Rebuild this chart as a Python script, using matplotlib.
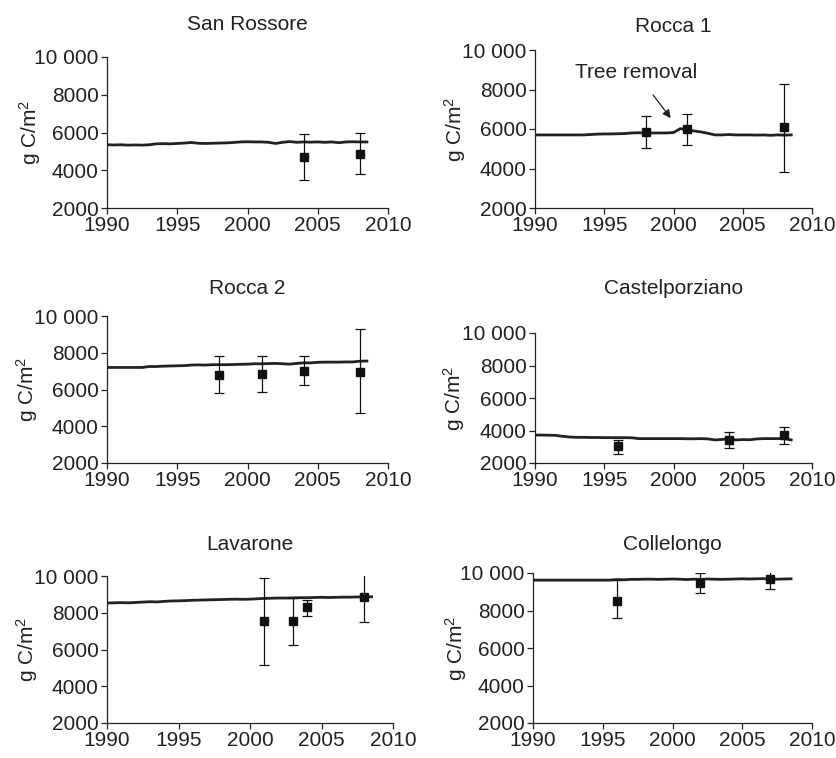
import matplotlib.pyplot as plt
import numpy as np

plt.rcParams['font.family'] = ['Liberation Sans', 'DejaVu Sans']
plt.rcParams['mathtext.fontset'] = 'custom'
plt.rcParams['mathtext.rm'] = 'Liberation Sans'
plt.rcParams['mathtext.it'] = 'Liberation Sans'
plt.rcParams['mathtext.default'] = 'rm'

# model output sampled every half year, 1990.0 .. 2008.5
YEARS = np.arange(1990.0, 2009.0, 0.5)

SITES = ['San Rossore', 'Rocca 1', 'Rocca 2',
         'Castelporziano', 'Lavarone', 'Collelongo']

san_rossore_model = [5350, 5340, 5350, 5330, 5340, 5330, 5350, 5400, 5410, 5400,
                     5420, 5440, 5470, 5430, 5420, 5430, 5440, 5450, 5470, 5500,
                     5510, 5500, 5500, 5480, 5420, 5480, 5520, 5480, 5500, 5490,
                     5500, 5480, 5500, 5460, 5500, 5510, 5500, 5500]
rocca1_model = [5700, 5700, 5700, 5700, 5700, 5700, 5700, 5700, 5720, 5740,
                5750, 5750, 5760, 5770, 5800, 5810, 5800, 5800, 5800, 5800,
                5820, 6020, 5950, 5900, 5850, 5780, 5700, 5700, 5720, 5700,
                5700, 5700, 5690, 5700, 5680, 5700, 5690, 5700]
rocca2_model = [7200, 7200, 7200, 7200, 7200, 7200, 7250, 7250, 7270, 7280,
                7290, 7300, 7330, 7340, 7330, 7350, 7350, 7350, 7360, 7370,
                7380, 7400, 7400, 7410, 7420, 7400, 7380, 7420, 7450, 7450,
                7480, 7490, 7490, 7490, 7500, 7500, 7540, 7550]
castel_model = [3720, 3720, 3710, 3700, 3640, 3600, 3580, 3580, 3570, 3570,
                3560, 3560, 3560, 3560, 3550, 3500, 3500, 3500, 3500, 3500,
                3500, 3500, 3490, 3490, 3500, 3480, 3420, 3450, 3480, 3420,
                3440, 3430, 3480, 3500, 3500, 3500, 3500, 3420]
lavarone_model = [8530, 8540, 8550, 8540, 8560, 8580, 8600, 8590, 8620, 8640,
                  8650, 8660, 8680, 8690, 8700, 8710, 8720, 8730, 8740, 8730,
                  8740, 8760, 8780, 8790, 8800, 8800, 8810, 8820, 8820, 8830,
                  8840, 8830, 8840, 8850, 8850, 8860, 8860, 8870]
collelongo_model = [9620, 9620, 9620, 9620, 9620, 9620, 9620, 9620, 9620, 9620,
                    9620, 9620, 9650, 9640, 9660, 9660, 9670, 9670, 9660, 9670,
                    9680, 9670, 9650, 9670, 9660, 9680, 9670, 9660, 9670, 9680,
                    9690, 9680, 9690, 9700, 9680, 9670, 9680, 9690]

# field measurements: year, value, lower and upper end of the error bar
san_rossore_obs_x = [2004, 2008]
san_rossore_obs_y = [4700, 4850]
san_rossore_obs_lo = [3500, 3800]
san_rossore_obs_hi = [5900, 6000]

rocca1_obs_x = [1998, 2001, 2008]
rocca1_obs_y = [5850, 6000, 6100]
rocca1_obs_lo = [5050, 5200, 3800]
rocca1_obs_hi = [6650, 6750, 8300]

rocca2_obs_x = [1998, 2001, 2004, 2008]
rocca2_obs_y = [6800, 6850, 7000, 6950]
rocca2_obs_lo = [5800, 5850, 6250, 4700]
rocca2_obs_hi = [7800, 7850, 7850, 9300]

castel_obs_x = [1996, 2004, 2008]
castel_obs_y = [3050, 3400, 3700]
castel_obs_lo = [2550, 2900, 3200]
castel_obs_hi = [3400, 3900, 4200]

lavarone_obs_x = [2001, 2003, 2004, 2008]
lavarone_obs_y = [7550, 7550, 8300, 8850]
lavarone_obs_lo = [5150, 6250, 7800, 7500]
lavarone_obs_hi = [9880, 8800, 8700, 10200]

collelongo_obs_x = [1996, 2002, 2007]
collelongo_obs_y = [8500, 9450, 9680]
collelongo_obs_lo = [7600, 8950, 9150]
collelongo_obs_hi = [9650, 10000, 10150]

MODELS = [san_rossore_model, rocca1_model, rocca2_model,
          castel_model, lavarone_model, collelongo_model]
OBS = [
    (san_rossore_obs_x, san_rossore_obs_y, san_rossore_obs_lo, san_rossore_obs_hi),
    (rocca1_obs_x, rocca1_obs_y, rocca1_obs_lo, rocca1_obs_hi),
    (rocca2_obs_x, rocca2_obs_y, rocca2_obs_lo, rocca2_obs_hi),
    (castel_obs_x, castel_obs_y, castel_obs_lo, castel_obs_hi),
    (lavarone_obs_x, lavarone_obs_y, lavarone_obs_lo, lavarone_obs_hi),
    (collelongo_obs_x, collelongo_obs_y, collelongo_obs_lo, collelongo_obs_hi),
]

X_TICKS = [1990, 1995, 2000, 2005, 2010]
Y_TICKS = [2000, 4000, 6000, 8000, 10000]
Y_TICK_LABELS = ['2000', '4000', '6000', '8000', '10 000']

W, H = 836, 758
# axes boxes in pixels: left, top, right, bottom
BOXES = [
    (107, 57, 388, 208),
    (535, 50, 812, 208),
    (107, 316, 388, 463),
    (535, 333, 812, 463),
    (107, 576, 393, 723),
    (533, 573, 812, 723),
]
TITLE_Y = [25, 26, 288, 288, 544, 544]
YLABEL_X = [30, 455, 27, 454, 27, 456]

FS = 15
INK = '#222222'

fig = plt.figure(figsize=(W / 100, H / 100), dpi=100)

for i, (name, model, (ox, oy, lo, hi)) in enumerate(zip(SITES, MODELS, OBS)):
    l, t, r, b = BOXES[i]
    ax = fig.add_axes([l / W, 1 - b / H, (r - l) / W, (b - t) / H])

    ax.plot(YEARS, model, color=INK, lw=2.0, zorder=2)

    oy = np.array(oy)
    yerr = [oy - np.array(lo), np.array(hi) - oy]
    ax.errorbar(ox, oy, yerr=yerr, fmt='s', color='#111111', ms=6,
                ecolor='#111111', elinewidth=0.9, capsize=3.5, capthick=0.9,
                zorder=3)

    ax.set_xlim(1990, 2010)
    ax.set_ylim(2000, 10000)
    ax.set_xticks(X_TICKS)
    ax.set_yticks(Y_TICKS)
    ax.set_yticklabels(Y_TICK_LABELS)
    ax.tick_params(labelsize=FS, length=4, width=0.9, colors=INK, pad=2)
    for side in ('top', 'right'):
        ax.spines[side].set_visible(False)
    for side in ('left', 'bottom'):
        ax.spines[side].set_linewidth(0.9)
        ax.spines[side].set_color(INK)
    ax.set_ylabel(r'g C/m$^{2}$', fontsize=FS, color=INK, va='center')
    ax.yaxis.set_label_coords((YLABEL_X[i] - l) / (r - l), 0.5)

    fig.text((l + r) / 2 / W, 1 - TITLE_Y[i] / H, name, ha='center',
             va='center', fontsize=FS, color=INK)

    if name == 'Rocca 1':
        ax.annotate('Tree removal', xy=(1999.8, 6550), xytext=(1997.3, 8850),
                    ha='center', va='center', fontsize=FS, color=INK,
                    arrowprops=dict(arrowstyle='-|>', color=INK,
                                    lw=0.9, shrinkA=9, shrinkB=0,
                                    mutation_scale=12))

fig.savefig('out.png', dpi=100)
